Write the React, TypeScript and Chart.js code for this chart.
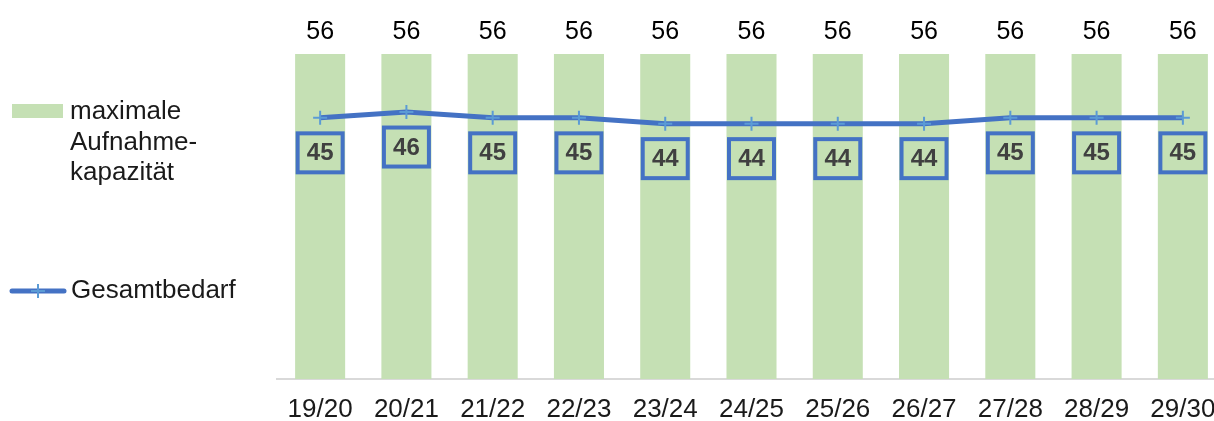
import React, { useEffect, useRef } from "react";
import { Chart, registerables } from "chart.js";

Chart.register(...registerables);

const categories = ["19/20", "20/21", "21/22", "22/23", "23/24", "24/25", "25/26", "26/27", "27/28", "28/29", "29/30"];
const capacity = [56, 56, 56, 56, 56, 56, 56, 56, 56, 56, 56];
const demand = [45, 46, 45, 45, 44, 44, 44, 44, 45, 45, 45];
const capacityLabel = ["maximale", "Aufnahme-", "kapazität"];
const demandLabel = "Gesamtbedarf";

const GREEN = "#C5E0B4";
const BLUE = "#4472C4";
const FONT = "'Liberation Sans', Arial, sans-serif";

const labelsPlugin = {
  id: "customLabels",
  afterDatasetsDraw(chart: any) {
    const ctx = chart.ctx;
    ctx.save();
    const barMeta = chart.getDatasetMeta(0);
    ctx.fillStyle = "#000000";
    ctx.font = `25px ${FONT}`;
    ctx.textAlign = "center";
    ctx.textBaseline = "middle";
    barMeta.data.forEach((el: any, i: number) => {
      ctx.fillText(String(capacity[i]), el.x, el.y - 22);
    });
    const lineMeta = chart.getDatasetMeta(1);
    lineMeta.data.forEach((el: any, i: number) => {
      const cx = el.x;
      const cy = el.y + 35;
      const w = 45;
      const h = 39;
      ctx.strokeStyle = BLUE;
      ctx.lineWidth = 4;
      ctx.strokeRect(cx - w / 2, cy - h / 2, w, h);
      ctx.fillStyle = "#404040";
      ctx.font = `bold 24px ${FONT}`;
      ctx.fillText(String(demand[i]), cx, cy + 1);
    });
    ctx.restore();
  },
  afterDraw(chart: any) {
    const ctx = chart.ctx;
    ctx.save();
    ctx.fillStyle = GREEN;
    ctx.fillRect(12, 104, 51, 14);
    ctx.fillStyle = "#1a1a1a";
    ctx.font = `26px ${FONT}`;
    ctx.textAlign = "left";
    ctx.textBaseline = "middle";
    capacityLabel.forEach((t, i) => ctx.fillText(t, 70, 112 + i * 30.5));
    ctx.strokeStyle = BLUE;
    ctx.lineWidth = 5;
    ctx.lineCap = "round";
    ctx.beginPath();
    ctx.moveTo(12, 291);
    ctx.lineTo(64, 291);
    ctx.stroke();
    ctx.strokeStyle = "#5B9BD5";
    ctx.lineWidth = 2;
    ctx.lineCap = "butt";
    ctx.beginPath();
    ctx.moveTo(38, 284);
    ctx.lineTo(38, 298);
    ctx.moveTo(31, 291);
    ctx.lineTo(45, 291);
    ctx.stroke();
    ctx.fillStyle = "#1a1a1a";
    ctx.fillText(demandLabel, 71, 291);
    ctx.restore();
  },
};

export default function App() {
  const ref = useRef<HTMLCanvasElement>(null);
  useEffect(() => {
    if (!ref.current) return;
    const chart = new Chart(ref.current, {
      type: "bar",
      data: {
        labels: categories,
        datasets: [
          {
            type: "bar",
            label: "maximale Aufnahmekapazität",
            data: capacity,
            backgroundColor: GREEN,
            borderWidth: 0,
            categoryPercentage: 1,
            barPercentage: 0.58,
            order: 2,
          },
          {
            type: "line",
            label: demandLabel,
            data: demand,
            borderColor: BLUE,
            borderWidth: 5,
            pointStyle: "cross",
            pointRadius: 7,
            pointBorderColor: "#5B9BD5",
            pointBorderWidth: 2,
            pointBackgroundColor: "#5B9BD5",
            tension: 0,
            order: 1,
          } as any,
        ],
      },
      options: {
        responsive: false,
        animation: false,
        layout: { padding: { left: 277, top: 54, right: 1, bottom: 0 } },
        plugins: { legend: { display: false }, tooltip: { enabled: false } },
        scales: {
          x: {
            grid: { display: false, drawTicks: false },
            border: { display: true, color: "#D9D9D9", width: 2 },
            ticks: { color: "#1a1a1a", font: { size: 26, family: FONT }, padding: 15, maxRotation: 0, autoSkip: false },
            afterFit: (scale: any) => {
              scale.height = 42;
            },
          },
          y: { display: false, min: 0, max: 56 },
        },
      },
      plugins: [labelsPlugin],
    });
    return () => chart.destroy();
  }, []);
  return (
    <div style={{ position: "fixed", left: 0, top: 0, width: 1214, height: 421, overflow: "hidden", background: "#fff" }}>
      <canvas ref={ref} width={1235} height={421} style={{ display: "block" }} />
    </div>
  );
}
